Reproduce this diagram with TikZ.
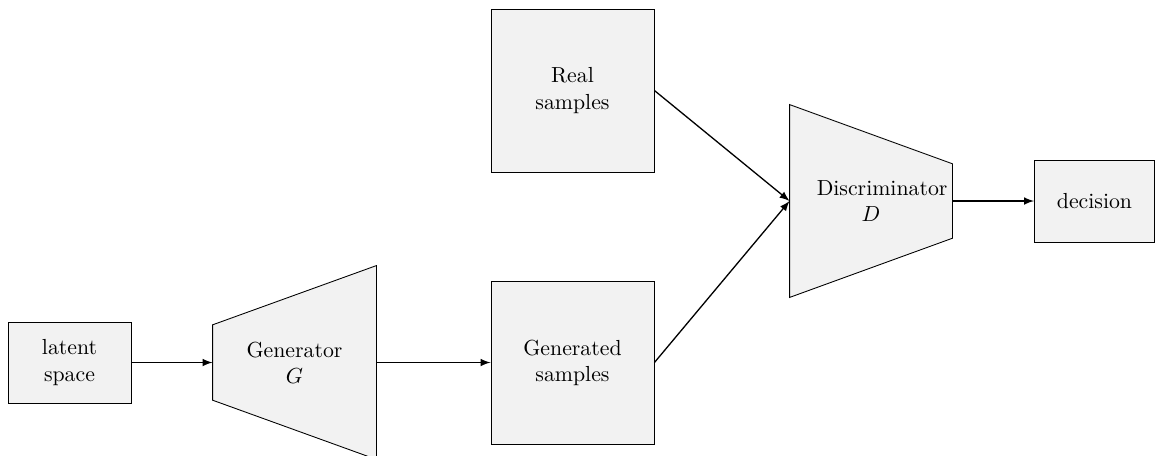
\documentclass[tikz,border=0pt]{standalone}
\usetikzlibrary{calc,backgrounds,arrows}
\newcommand{\pxlen}{0.016129cm}
\begin{document}
\begin{tikzpicture}[x=\pxlen, y=-\pxlen,
  box/.style 2 args={draw, fill=black!5, align=center, inner sep=0pt,
    minimum width={#1*\pxlen}, minimum height={#2*\pxlen}},
  net/.style 2 args={align=center, text width=1.75cm, inner sep=0pt,
    minimum width={#1*\pxlen}, minimum height={#2*\pxlen}},
  trap/.style={draw, fill=black!5},
  arr/.style={-latex, line width=0.6pt}]
  \useasboundingbox (0,0) rectangle (1155,455);

  % blocks
  \node[box={123}{81}]  (latent) at (69.5,362.5)  {latent\\space};
  \node[net={163}{193}] (G)      at (294.5,362.5) {Generator\\$G$};
  \node[box={163}{163}] (gen)    at (572.5,362.5) {Generated\\samples};
  \node[box={163}{163}] (real)   at (572.5,90.5)  {Real\\samples};
  \node[net={162}{192}] (D)      at (871,201)     {Discriminator\\$D$};
  \node[box={120}{82}]  (dec)    at (1094.5,201)  {decision};

  % trapezoidal outlines of the two networks
  \begin{scope}[on background layer]
    \draw[trap] (G.north east) -- (G.south east)
      -- ($(G.south west)!0.3057!(G.north west)$)
      -- ($(G.north west)!0.3057!(G.south west)$) -- cycle;
    \draw[trap] (D.north west) -- (D.south west)
      -- ($(D.south east)!0.307!(D.north east)$)
      -- ($(D.north east)!0.307!(D.south east)$) -- cycle;
  \end{scope}

  % data flow
  \draw[arr] (latent.east) -- (G.west);
  \draw[arr] (G.east) -- (gen.west);
  \draw[arr] (real.east) -- (D.west);
  \draw[arr] (gen.east) -- (D.west);
  \draw[arr] (D.east) -- (dec.west);
\end{tikzpicture}
\end{document}
